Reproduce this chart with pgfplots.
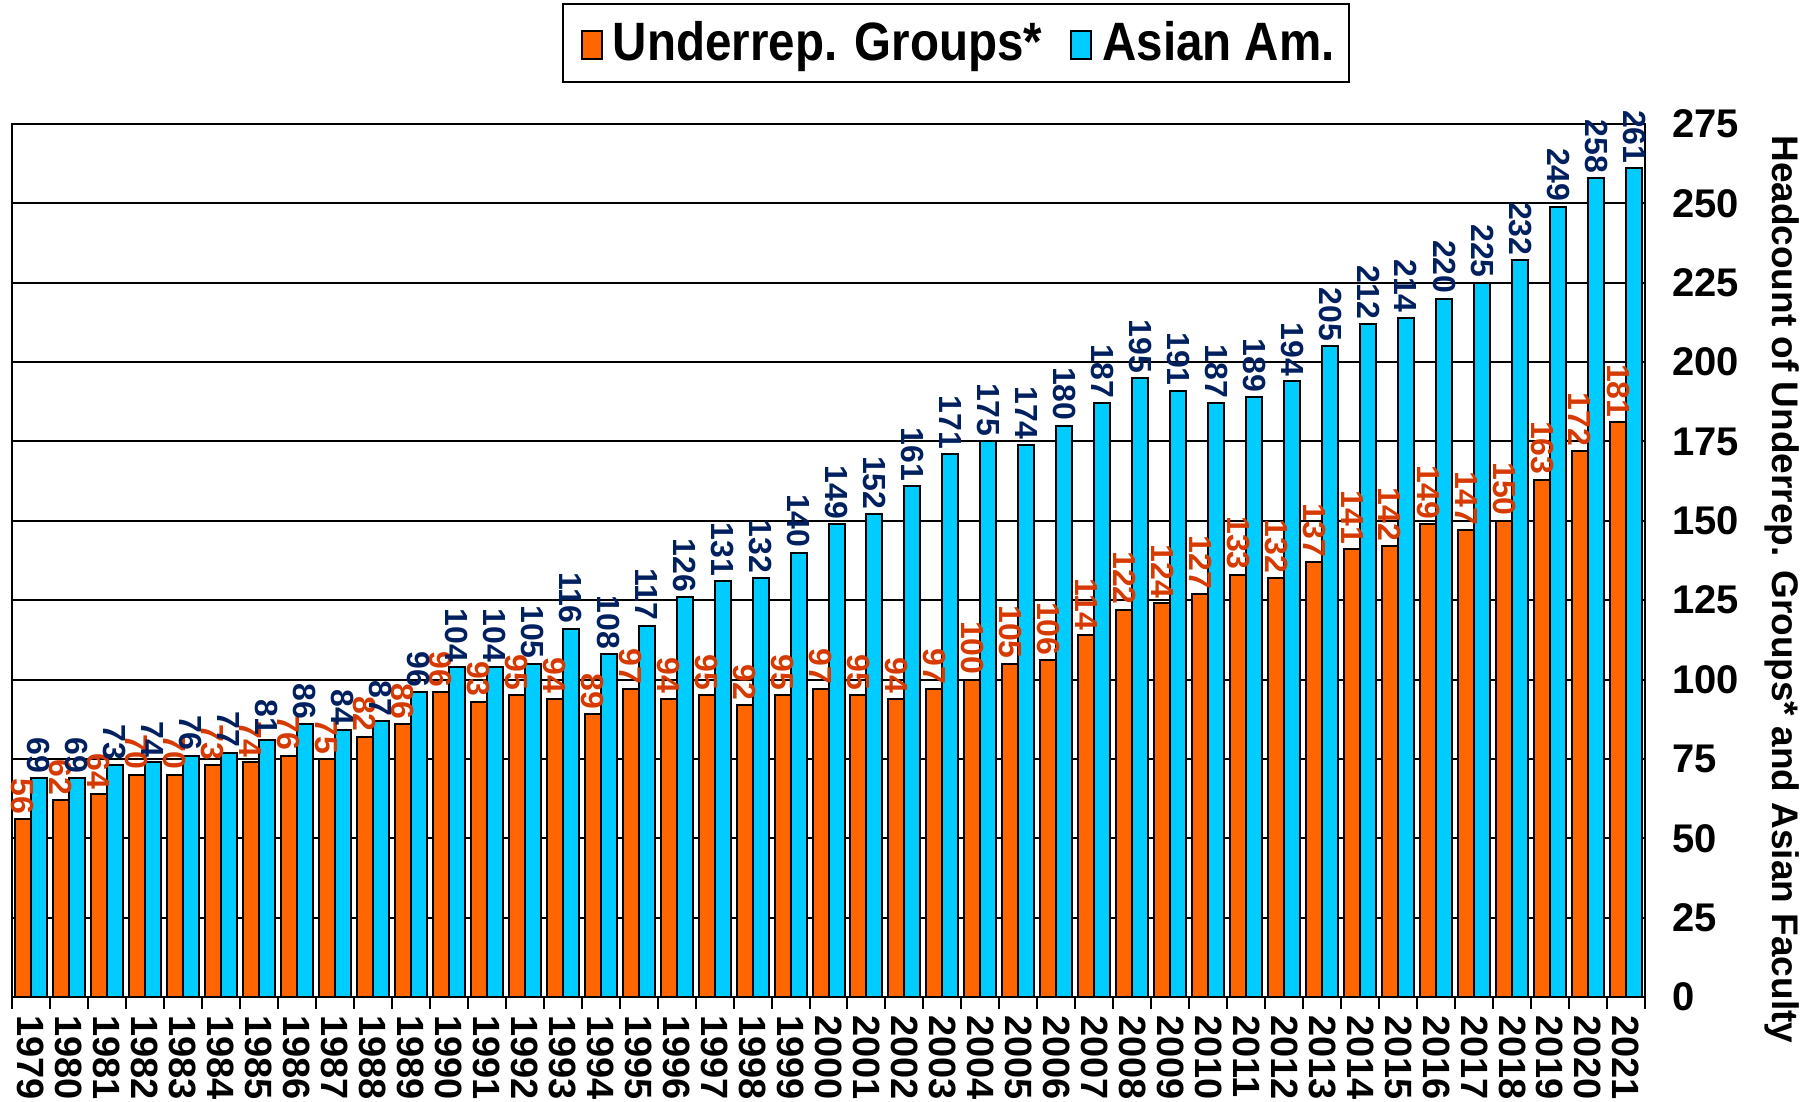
\documentclass[border=0pt]{standalone}
\usepackage{pgfplots}
\pgfplotsset{compat=1.18}
\usepackage{pgfplotstable}
\usepackage{fontspec}
\setmainfont{Liberation Sans}
\newfontfamily\legfont[FakeStretch=0.88]{Liberation Sans}
\usetikzlibrary{calc}
\definecolor{orng}{RGB}{255,102,0}
\definecolor{cyn}{RGB}{0,204,255}
\definecolor{orlab}{RGB}{214,58,0}
\definecolor{navlab}{RGB}{0,32,96}
\pgfplotstableread{
x u a
0 56 69
1 62 69
2 64 73
3 70 74
4 70 76
5 73 77
6 74 81
7 76 86
8 75 84
9 82 87
10 86 96
11 96 104
12 93 104
13 95 105
14 94 116
15 89 108
16 97 117
17 94 126
18 95 131
19 92 132
20 95 140
21 97 149
22 95 152
23 94 161
24 97 171
25 100 175
26 105 174
27 106 180
28 114 187
29 122 195
30 124 191
31 127 187
32 133 189
33 132 194
34 137 205
35 141 212
36 142 214
37 149 220
38 147 225
39 150 232
40 163 249
41 172 258
42 181 261
}\data
\begin{document}
\begin{tikzpicture}
\begin{axis}[
  name=ax,
  scale only axis,
  width=816.5pt, height=436.5pt,
  xmin=-0.5, xmax=42.5, ymin=0, ymax=275,
  ybar=0pt, bar width=8pt,
  axis line style={line width=1pt, black},
  xtick={0,...,42},
  xticklabels={1979,1980,1981,1982,1983,1984,1985,1986,1987,1988,1989,1990,1991,1992,1993,1994,1995,1996,1997,1998,1999,2000,2001,2002,2003,2004,2005,2006,2007,2008,2009,2010,2011,2012,2013,2014,2015,2016,2017,2018,2019,2020,2021},
  minor xtick={-0.5,0.5,...,42.5},
  xtick pos=bottom,
  major tick length=0pt,
  minor tick length=6pt,
  tick align=outside,
  minor tick style={line width=1pt, black},
  xticklabel style={rotate=-90, anchor=west, font=\bfseries\fontsize{19}{21}\selectfont, inner sep=1pt, xshift=8pt},
  ytick={0,25,...,275},
  yticklabel pos=right,
  yticklabel style={anchor=west, font=\bfseries\fontsize{20}{24}\selectfont, xshift=10pt},
  /pgf/number format/assume math mode=true,
  ymajorgrids,
  major grid style={line width=1pt, black},
  ylabel={Headcount of Underrep. Groups* and Asian Faculty},
  ylabel style={at={(rel axis cs:1.0839,0.467)}, anchor=center, rotate=180, font=\bfseries\fontsize{18.5}{22}\selectfont},
  legend style={at={(0.578,1.047)}, anchor=south, legend columns=2, draw=black, line width=1pt,
    font=\legfont\bfseries\fontsize{27}{30}\selectfont, inner xsep=2pt, inner ysep=7pt,
    /tikz/every even column/.append style={column sep=2pt},
    nodes={inner xsep=5pt}},
  nodes near coords,
  every node near coord/.append style={rotate=-90, anchor=east, font=\bfseries\fontsize{16}{18}\selectfont, inner sep=2pt},
]
\addplot[fill=orng, draw=black, line width=1pt,
  every node near coord/.append style={text=orlab},
  legend image code/.code={\path (0pt,0pt); \draw[fill=orng,draw=black,line width=1pt] (7pt,-8pt) rectangle (17pt,6pt);}]
  table[x=x, y=u] {\data};
\addplot[fill=cyn, draw=black, line width=1pt,
  every node near coord/.append style={text=navlab},
  legend image code/.code={\path (0pt,0pt); \draw[fill=cyn,draw=black,line width=1pt] (7pt,-8pt) rectangle (17pt,6pt);}]
  table[x=x, y=a] {\data};
\legend{Underrep. Groups*, Asian Am.}
\end{axis}
\pgfresetboundingbox
\path ($(ax.south west)+(-6pt,-52.5pt)$) rectangle ($(ax.north east)+(80.5pt,62pt)$);
\end{tikzpicture}
\end{document}
